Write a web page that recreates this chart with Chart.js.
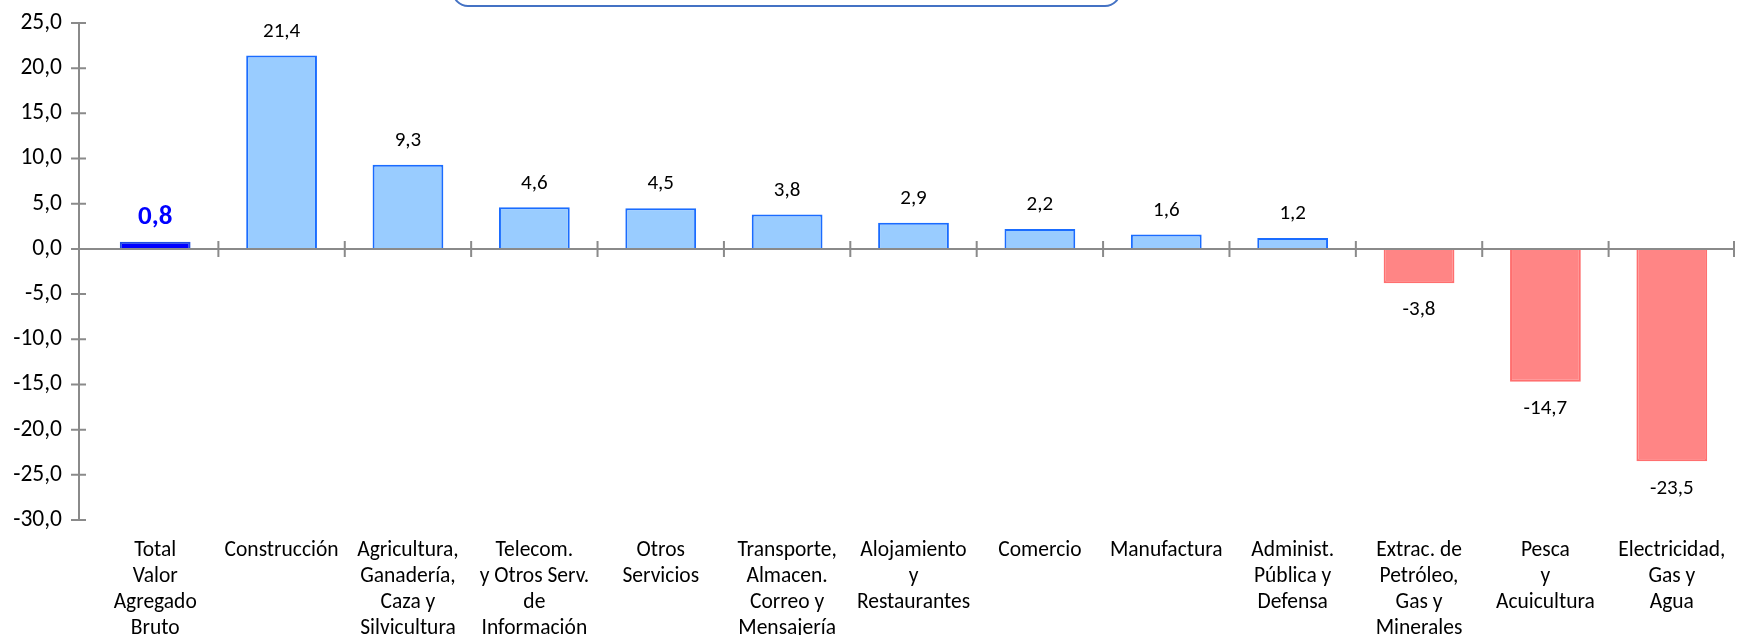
<!DOCTYPE html>
<html>
<head>
<meta charset="utf-8">
<script src="https://cdn.jsdelivr.net/npm/chart.js@4"></script>
<style>
  html, body { margin: 0; padding: 0; background: #fff; }
  #wrap { position: relative; width: 1737px; height: 635px; overflow: hidden; }
  #box { position: absolute; left: 452px; top: -40px; width: 665px; height: 43px;
         border: 2px solid #4472c4; border-radius: 16px; }
</style>
</head>
<body>
<div id="wrap">
  <canvas id="myChart" width="1737" height="635"></canvas>
  <div id="box"></div>
</div>
<script>
// Variación por actividad económica (%)

const sectors = [
  ["Total", "Valor", "Agregado", "Bruto"],
  ["Construcción"],
  ["Agricultura,", "Ganadería,", "Caza y", "Silvicultura"],
  ["Telecom.", "y Otros Serv.", "de", "Información"],
  ["Otros", "Servicios"],
  ["Transporte,", "Almacen.", "Correo y", "Mensajería"],
  ["Alojamiento", "y", "Restaurantes"],
  ["Comercio"],
  ["Manufactura"],
  ["Administ.", "Pública y", "Defensa"],
  ["Extrac. de", "Petróleo,", "Gas y", "Minerales"],
  ["Pesca", "y", "Acuicultura"],
  ["Electricidad,", "Gas y", "Agua"],
];

const growth = [0.8, 21.4, 9.3, 4.6, 4.5, 3.8, 2.9, 2.2, 1.6, 1.2, -3.8, -14.7, -23.5];

const yTicks = [25, 20, 15, 10, 5, 0, -5, -10, -15, -20, -25, -30];

const FONT = "Carlito, Calibri, Lato, sans-serif";

function fmt(v) {
  return v.toFixed(1).replace(".", ",");
}

const fillColors = growth.map((v, i) => (i === 0 ? "#0000ff" : v < 0 ? "#ff8585" : "#99ccff"));
const lineColors = growth.map((v, i) => (i === 0 ? "#1f4fe0" : v < 0 ? "#ff6f6f" : "#1a6cff"));

// axis lines with crossing tick marks, like the original
const axisPlugin = {
  id: "axisLines",
  afterDatasetsDraw(chart) {
    const { ctx, chartArea, scales } = chart;
    const x = scales.x;
    const y = scales.y;
    const axisX = chartArea.left - 13;
    const y0 = y.getPixelForValue(0);
    ctx.save();
    ctx.strokeStyle = "#8a8a8a";
    ctx.lineWidth = 2;

    ctx.beginPath();
    ctx.moveTo(axisX, y.getPixelForValue(yTicks[0]));
    ctx.lineTo(axisX, y.getPixelForValue(yTicks[yTicks.length - 1]));
    yTicks.forEach((t) => {
      const py = y.getPixelForValue(t);
      ctx.moveTo(axisX - 8, py);
      ctx.lineTo(axisX + 7, py);
    });
    ctx.moveTo(axisX, y0);
    ctx.lineTo(chartArea.right, y0);

    for (let i = 0; i < sectors.length; i++) {
      const px = i < sectors.length - 1
        ? (x.getPixelForValue(i) + x.getPixelForValue(i + 1)) / 2
        : chartArea.right - 1;
      ctx.moveTo(px, y0 - 8);
      ctx.lineTo(px, y0 + 8);
    }
    ctx.stroke();
    ctx.restore();
  },
};

// value labels above / below each bar
const valuePlugin = {
  id: "valueLabels",
  afterDatasetsDraw(chart) {
    const { ctx } = chart;
    const bars = chart.getDatasetMeta(0).data;
    ctx.save();
    ctx.textAlign = "center";
    ctx.textBaseline = "middle";
    bars.forEach((bar, i) => {
      const v = growth[i];
      if (i === 0) {
        ctx.font = "bold 27px " + FONT;
        ctx.fillStyle = "#0000ff";
      } else {
        ctx.font = "21px " + FONT;
        ctx.fillStyle = "#000";
      }
      const ty = v >= 0 ? bar.y - 24 : bar.y + 27;
      ctx.fillText(fmt(v), bar.x, ty);
    });
    ctx.restore();
  },
};

new Chart(document.getElementById("myChart"), {
  type: "bar",
  data: {
    labels: sectors,
    datasets: [
      {
        data: growth,
        backgroundColor: fillColors,
        borderColor: lineColors,
        borderWidth: 2,
        barPercentage: 0.56,
        categoryPercentage: 1,
      },
    ],
  },
  options: {
    responsive: false,
    animation: false,
    layout: { padding: { top: 23, right: 2, left: 0, bottom: 0 } },
    plugins: {
      legend: { display: false },
      tooltip: { enabled: false },
    },
    scales: {
      x: {
        grid: { display: false },
        border: { display: false },
        ticks: {
          color: "#000",
          font: { family: FONT, size: 21.5, lineHeight: 1.2 },
          padding: 10,
          maxRotation: 0,
          autoSkip: false,
        },
        afterFit(scale) {
          scale.height = 115;
          scale.paddingTop = 0;
          scale.paddingBottom = 0;
        },
      },
      y: {
        min: -30,
        max: 25,
        grid: { display: false, drawTicks: false },
        border: { display: false },
        ticks: {
          stepSize: 5,
          color: "#000",
          font: { family: FONT, size: 23.5 },
          padding: 30,
          callback: (v) => fmt(v),
        },
        afterFit(scale) {
          scale.width = 92;
          scale.paddingTop = 0;
          scale.paddingBottom = 0;
        },
      },
    },
  },
  plugins: [axisPlugin, valuePlugin],
});
</script>
</body>
</html>
